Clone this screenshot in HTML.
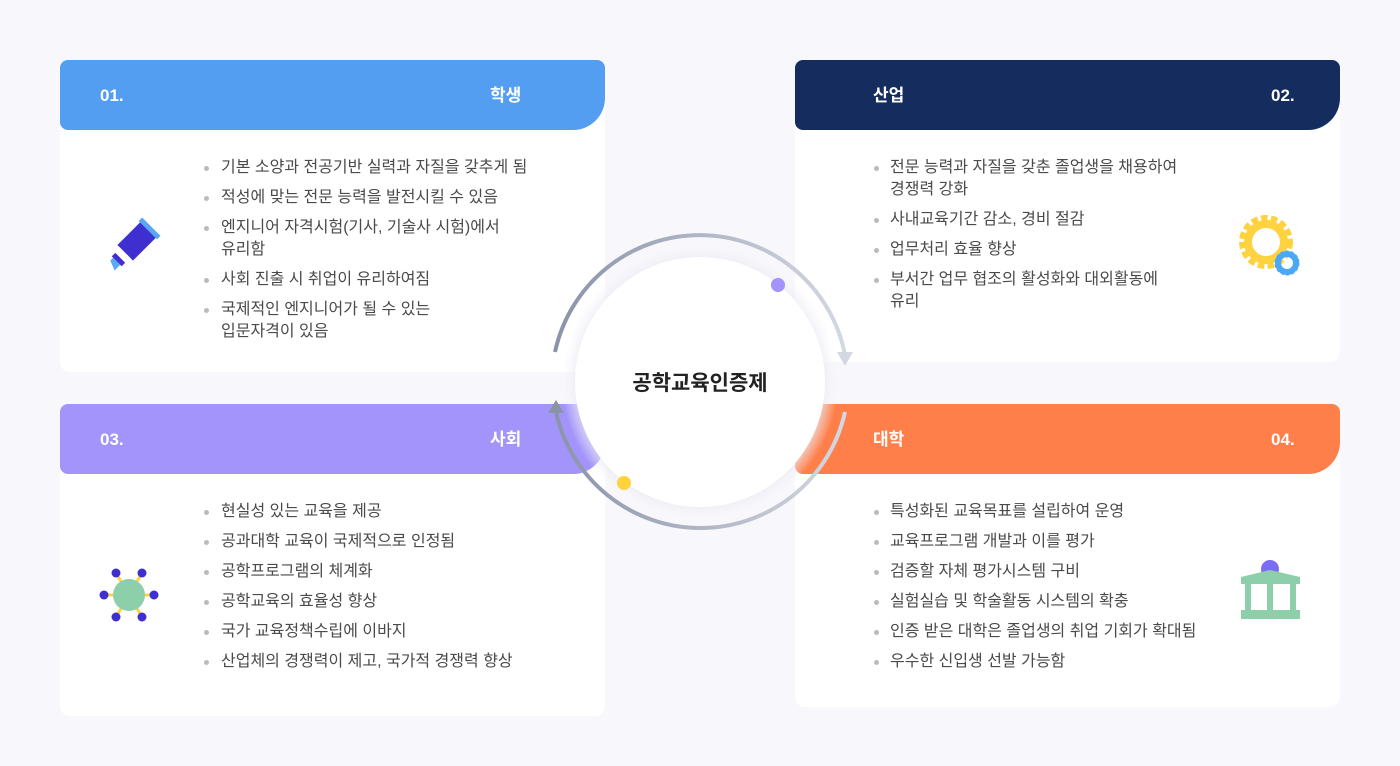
<!DOCTYPE html>
<html><head><meta charset="utf-8"><style>
*{margin:0;padding:0;box-sizing:border-box}
body{width:1400px;height:766px;background:#f8f8fc;position:relative;overflow:hidden;font-family:"Liberation Sans","Noto Sans CJK KR",sans-serif}
.card{position:absolute;background:#fff;border-radius:10px}
.hd{position:absolute;left:0;top:0;width:545px;height:70px;border-radius:8px 8px 32px 8px;color:#fff;font-weight:bold;font-size:17px}
.hd span{position:absolute;top:0;line-height:72px;height:70px}
.t{position:absolute;font-size:16px;color:#4a4a4a;white-space:nowrap;line-height:22px}
.b{position:absolute;width:5px;height:5px;border-radius:50%;background:#bbb}
</style></head><body>

<div class="card" style="left:60px;top:60px;width:545px;height:312px">
<div class="hd" style="background:#539ef0"><span style="left:40px">01.</span><span style="left:430px">학생</span></div></div>
<div class="card" style="left:795px;top:60px;width:545px;height:302px">
<div class="hd" style="background:#142d5e"><span style="left:78px">산업</span><span style="left:476px">02.</span></div></div>
<div class="card" style="left:60px;top:404px;width:545px;height:312px">
<div class="hd" style="background:#a294fa"><span style="left:40px">03.</span><span style="left:430px">사회</span></div></div>
<div class="card" style="left:795px;top:404px;width:545px;height:303px">
<div class="hd" style="background:#ff7f4a"><span style="left:78px">대학</span><span style="left:476px">04.</span></div></div>

<div class="b" style="left:204px;top:166px"></div><div class="t" style="left:221px;top:157px">기본 소양과 전공기반 실력과 자질을 갖추게 됨</div>
<div class="b" style="left:204px;top:196px"></div><div class="t" style="left:221px;top:187px">적성에 맞는 전문 능력을 발전시킬 수 있음</div>
<div class="b" style="left:204px;top:226px"></div><div class="t" style="left:221px;top:217px">엔지니어 자격시험(기사, 기술사 시험)에서<br>유리함</div>
<div class="b" style="left:204px;top:278px"></div><div class="t" style="left:221px;top:269px">사회 진출 시 취업이 유리하여짐</div>
<div class="b" style="left:204px;top:308px"></div><div class="t" style="left:221px;top:299px">국제적인 엔지니어가 될 수 있는<br>입문자격이 있음</div>

<div class="b" style="left:874px;top:166px"></div><div class="t" style="left:890px;top:157px">전문 능력과 자질을 갖춘 졸업생을 채용하여<br>경쟁력 강화</div>
<div class="b" style="left:874px;top:218px"></div><div class="t" style="left:890px;top:209px">사내교육기간 감소, 경비 절감</div>
<div class="b" style="left:874px;top:248px"></div><div class="t" style="left:890px;top:239px">업무처리 효율 향상</div>
<div class="b" style="left:874px;top:278px"></div><div class="t" style="left:890px;top:269px">부서간 업무 협조의 활성화와 대외활동에<br>유리</div>

<div class="b" style="left:204px;top:510px"></div><div class="t" style="left:221px;top:501px">현실성 있는 교육을 제공</div>
<div class="b" style="left:204px;top:540px"></div><div class="t" style="left:221px;top:531px">공과대학 교육이 국제적으로 인정됨</div>
<div class="b" style="left:204px;top:570px"></div><div class="t" style="left:221px;top:561px">공학프로그램의 체계화</div>
<div class="b" style="left:204px;top:600px"></div><div class="t" style="left:221px;top:591px">공학교육의 효율성 향상</div>
<div class="b" style="left:204px;top:630px"></div><div class="t" style="left:221px;top:621px">국가 교육정책수립에 이바지</div>
<div class="b" style="left:204px;top:660px"></div><div class="t" style="left:221px;top:651px">산업체의 경쟁력이 제고, 국가적 경쟁력 향상</div>

<div class="b" style="left:874px;top:510px"></div><div class="t" style="left:890px;top:501px">특성화된 교육목표를 설립하여 운영</div>
<div class="b" style="left:874px;top:540px"></div><div class="t" style="left:890px;top:531px">교육프로그램 개발과 이를 평가</div>
<div class="b" style="left:874px;top:570px"></div><div class="t" style="left:890px;top:561px">검증할 자체 평가시스템 구비</div>
<div class="b" style="left:874px;top:600px"></div><div class="t" style="left:890px;top:591px">실험실습 및 학술활동 시스템의 확충</div>
<div class="b" style="left:874px;top:630px"></div><div class="t" style="left:890px;top:621px">인증 받은 대학은 졸업생의 취업 기회가 확대됨</div>
<div class="b" style="left:874px;top:660px"></div><div class="t" style="left:890px;top:651px">우수한 신입생 선발 가능함</div>

<svg width="1400" height="766" style="position:absolute;left:0;top:0">
<defs>
<linearGradient id="g1" x1="0" y1="0" x2="1" y2="0"><stop offset="0" stop-color="#8a93a8"/><stop offset="1" stop-color="#d4d8e2"/></linearGradient>
<linearGradient id="g2" x1="0" y1="0" x2="1" y2="0"><stop offset="0" stop-color="#8a93a8"/><stop offset="1" stop-color="#d4d8e2"/></linearGradient>
<radialGradient id="sh" cx="0.5" cy="0.5" r="0.5"><stop offset="0.85" stop-color="#e6e7f0"/><stop offset="1" stop-color="#f2f2f8" stop-opacity="0"/></radialGradient>
</defs>
<circle cx="700" cy="382" r="138" fill="url(#sh)"/>
<circle cx="700" cy="382" r="125" fill="#fff"/>
<path d="M555 352 A148 148 0 0 1 845 355" fill="none" stroke="url(#g1)" stroke-width="4"/>
<polygon points="837,352 853,352 845,366" fill="#d4d8e2"/>
<path d="M845 412 A148 148 0 0 1 556 412" fill="none" stroke="url(#g2)" stroke-width="4"/>
<polygon points="548,413 564,413 556,400" fill="#8a93a8"/>
<circle cx="778" cy="285" r="7" fill="#a294fa"/>
<circle cx="624" cy="483" r="7" fill="#ffd23f"/>
<text x="700" y="390" text-anchor="middle" font-family="Liberation Sans,Noto Sans CJK KR,sans-serif" font-weight="bold" font-size="21" fill="#222">공학교육인증제</text>

<g transform="translate(128,250) rotate(45)">
<rect x="-11" y="-30" width="22" height="34" fill="#3f2fd0"/>
<rect x="-13" y="-33" width="26" height="5" fill="#5aa7f2"/>
<rect x="-9" y="4" width="18" height="7" fill="#fff"/>
<rect x="-7" y="11" width="14" height="5" fill="#3f2fd0"/>
<polygon points="-5,16 5,16 5,24 -5,20" fill="#5aa7f2"/>
</g>
<g transform="translate(129,595)">
<g stroke="#ffd23f" stroke-width="3">
<line x1="0" y1="0" x2="-13" y2="-22"/><line x1="0" y1="0" x2="13" y2="-22"/>
<line x1="0" y1="0" x2="-25" y2="0"/><line x1="0" y1="0" x2="25" y2="0"/>
<line x1="0" y1="0" x2="-13" y2="22"/><line x1="0" y1="0" x2="13" y2="22"/></g>
<circle r="16" fill="#8ccfaa"/>
<g fill="#3f2fd0"><circle cx="-13" cy="-22" r="4.5"/><circle cx="13" cy="-22" r="4.5"/><circle cx="-25" cy="0" r="4.5"/><circle cx="25" cy="0" r="4.5"/><circle cx="-13" cy="22" r="4.5"/><circle cx="13" cy="22" r="4.5"/></g>
</g>
<g transform="translate(1266,242)">
<circle r="22" fill="none" stroke="#ffd23f" stroke-width="10" stroke-dasharray="6 3"/>
<circle r="18" fill="none" stroke="#ffd23f" stroke-width="8"/>
</g>
<g transform="translate(1287,263)">
<circle r="9" fill="none" stroke="#4aa8f5" stroke-width="6"/>
<circle r="11" fill="none" stroke="#4aa8f5" stroke-width="3" stroke-dasharray="3 2"/>
</g>
<g>
<circle cx="1270" cy="569" r="9" fill="#7b6cf8"/>
<polygon points="1241,577 1270,570 1300,577 1300,584 1241,584" fill="#8ccfaa"/>
<rect x="1245" y="584" width="6" height="28" fill="#8ccfaa"/>
<rect x="1267" y="584" width="6" height="28" fill="#8ccfaa"/>
<rect x="1290" y="584" width="6" height="28" fill="#8ccfaa"/>
<rect x="1241" y="610" width="59" height="9" fill="#8ccfaa"/>
</g>
</svg>
</body></html>
